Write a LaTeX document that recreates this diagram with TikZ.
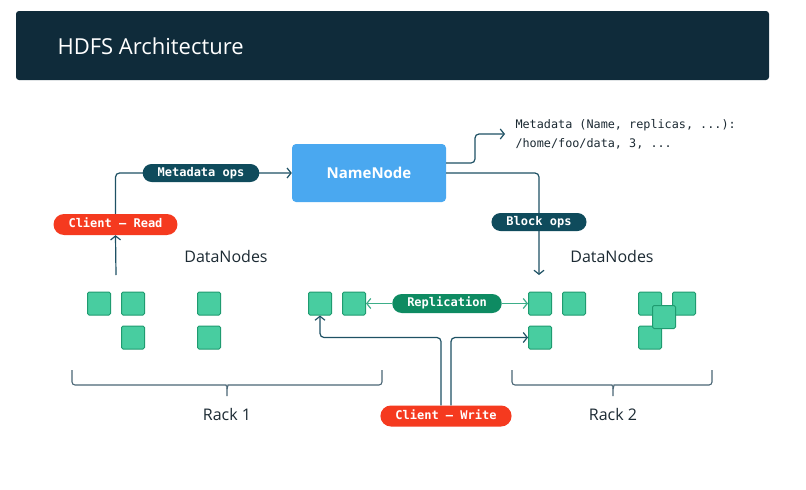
\documentclass[tikz,border=0pt]{standalone}
\usepackage{fontspec}
\setmainfont{Open Sans}
\setmonofont{DejaVu Sans Mono}
\usetikzlibrary{positioning}
\usetikzlibrary{arrows.meta}
\definecolor{barbg}{HTML}{0F2B3A}
\definecolor{nnblue}{HTML}{4AA8F0}
\definecolor{opsteal}{HTML}{0F4B5C}
\definecolor{clientred}{HTML}{F53A1F}
\definecolor{replgreen}{HTML}{0E8B62}
\definecolor{dnfill}{HTML}{48CDA0}
\definecolor{dnline}{HTML}{1F9B70}
\definecolor{wirecol}{HTML}{1E5164}
\definecolor{replwire}{HTML}{3DAE89}
\definecolor{inktext}{HTML}{1C2A33}
\definecolor{bracecol}{HTML}{4B6676}

\tikzset{
  dn/.style={draw=dnline, fill=dnfill, line width=1pt, minimum size=23pt, inner sep=0pt, rounded corners=1.5pt},
  pill/.style={text=white, font=\ttfamily\bfseries\fontsize{12}{14}\selectfont, inner xsep=15pt, inner ysep=0pt, text height=8.5pt, text depth=2pt},
  wire/.style={draw=wirecol, line width=1.2pt, rounded corners=4pt, -{Straight Barb[length=4pt,width=10pt]}},
  label/.style={text=inktext, font=\fontsize{16}{19}\selectfont},
  rackbrace/.style={draw=bracecol, line width=1.1pt, rounded corners=3pt}
}

\begin{document}
\begin{tikzpicture}[x=1pt, y=-1pt, node distance=34pt]
\fill[white] (0,0) rectangle (806,490);
\useasboundingbox (0,0) rectangle (806,490);
% title bar
\fill[barbg, rounded corners=3pt] (16,11) rectangle (769,80);
\node[anchor=west, text=white, font=\fontsize{22}{26}\selectfont] (title) at (54,46) {HDFS Architecture};

\node[fill=nnblue, text=white, rounded corners=4pt, minimum width=154pt, minimum height=58pt, font=\bfseries\fontsize{15}{18}\selectfont] (NN) at (369,173) {NameNode};
\node[pill, fill=clientred, rounded corners=10.5pt, minimum height=21pt] (CR) at (115.5,224.5) {Client — Read};
\node[pill, fill=clientred, rounded corners=10.5pt, minimum height=21pt] (CW) at (446,416) {Client — Write};

\node[label] (dnleft) at (226,256) {DataNodes};
\node[label] (dnright) at (612,256) {DataNodes};

% rack 1
\node[dn] (a1) at (99,303.5) {};
\node[dn, right of=a1] (a2) {};
\node[dn, below of=a2] (a3) {};
\node[dn] (a4) at (209,303.5) {};
\node[dn, below of=a4] (a5) {};
\node[dn] (a6) at (320,303.5) {};
\node[dn, right of=a6] (a7) {};
% rack 2
\node[dn] (b1) at (540,303.5) {};
\node[dn, right of=b1] (b2) {};
\node[dn, below of=b1] (b3) {};
\node[dn] (b4) at (650,303.5) {};
\node[dn, right of=b4] (b5) {};
\node[dn, below of=b4] (b6) {};
\node[dn] (b7) at (664,317) {};

\node[label] (rack1) at (227,414) {Rack 1};
\node[label] (rack2) at (613,414) {Rack 2};
\draw[rackbrace] (72,370) |- (223,385) to[out=0,in=90] (227,389) -- (227,396);
\draw[rackbrace] (382,370) |- (231,385) to[out=180,in=90] (227,389);
\draw[rackbrace] (512,370) |- (609,385) to[out=0,in=90] (613,389) -- (613,396);
\draw[rackbrace] (712,370) |- (617,385) to[out=180,in=90] (613,389);

% connectors
\coordinate (readfrom) at (116,275);
\coordinate (mdtip) at (505,134);
\coordinate (bktip) at (539,275);
\draw[wire] (readfrom) -- (CR.south);
\draw[wire] (CR.north) |- (NN.west);
\draw[wire] ([yshift=10pt]NN.east) -| ([xshift=-30pt]mdtip) -- (mdtip);
\draw[wire] (NN.east) -| (bktip);
\draw[wire] ([xshift=-5pt]CW.north) |- (a6 |- b3) -- (a6.south);
\draw[wire] ([xshift=5pt]CW.north) |- (b3.west);

% labels on the wires
\node[pill, fill=opsteal, rounded corners=9pt, minimum height=18pt] (mdops) at (201,173) {Metadata ops};
\node[pill, fill=opsteal, rounded corners=9pt, minimum height=18pt] (bkops) at (539,222) {Block ops};
\node[pill, fill=replgreen, rounded corners=9.5pt, minimum height=19pt] (repl) at (447,303.5) {Replication};
\draw[wire, draw=replwire] (repl.west) -- (a7.east);
\draw[wire, draw=replwire] (repl.east) -- (b1.west);

\node[anchor=west, align=left, text=inktext, font=\ttfamily\fontsize{11.8}{19}\selectfont] (mdtext) at (512,134.5) {Metadata (Name, replicas, ...):\\/home/foo/data, 3, ...};
\end{tikzpicture}
\end{document}
